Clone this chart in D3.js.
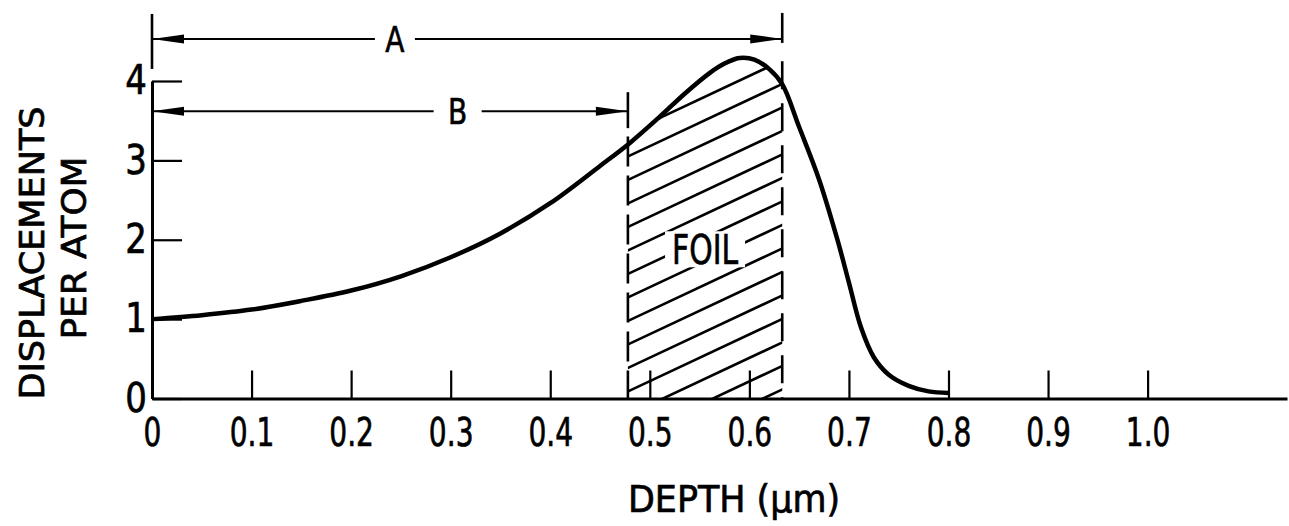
<!DOCTYPE html>
<html>
<head>
<meta charset="utf-8">
<script src="https://cdn.jsdelivr.net/npm/d3@7"></script>
<style>
  body { margin: 0; background: #fff; }
  text { font-family: "DejaVu Sans", "Liberation Sans", sans-serif; fill: #000; stroke: #000; stroke-width: 0.7px; }
</style>
</head>
<body>
<div id="chart"></div>
<script>
// Data
const depth = [0, 0.05, 0.10, 0.15, 0.20, 0.25, 0.30, 0.35, 0.40, 0.45, 0.48, 0.51, 0.535, 0.56, 0.575, 0.59, 0.605, 0.62, 0.633, 0.65, 0.67, 0.688, 0.70, 0.712, 0.725, 0.74, 0.76, 0.78, 0.80];
const dpa   = [1.00, 1.05, 1.12, 1.23, 1.36, 1.54, 1.78, 2.08, 2.46, 2.93, 3.22, 3.55, 3.84, 4.10, 4.22, 4.29, 4.27, 4.15, 3.96, 3.42, 2.76, 2.02, 1.46, 0.90, 0.52, 0.30, 0.16, 0.09, 0.07];

const xTicks = [0, 0.1, 0.2, 0.3, 0.4, 0.5, 0.6, 0.7, 0.8, 0.9, 1.0];
const xTickLabels = ["0", "0.1", "0.2", "0.3", "0.4", "0.5", "0.6", "0.7", "0.8", "0.9", "1.0"];
const yTicks = [0, 1, 2, 3, 4];
const yTickLabels = ["0", "1", "2", "3", "4"];

const foilRange = [0.478, 0.633];
const spanLabels = ["A", "B"];
const spanEnds = [0.633, 0.478];
const spanLevels = [4.53, 3.62];
const spanLabelAt = [0.244, 0.307];

function draw() {
    const points = depth.map((d, i) => ({ x: d, y: dpa[i] }));

    const width = 1289, height = 526;

    const svg = d3.select("#chart")
        .append("svg")
        .attr("width", width)
        .attr("height", height)

    const xScale = d3.scaleLinear()
        .domain([0, 1.14])
        .range([152, 1287])

    const yScale = d3.scaleLinear()
        .domain([0, 4])
        .range([398.5, 81])

    const curve = d3.curveCatmullRom.alpha(0.5);

    // Clip paths for the hatched foil
    const defs = svg.append("defs");
    defs.append("clipPath").attr("id", "foil-rect")
        .append("rect")
        .attr("x", xScale(foilRange[0]))
        .attr("y", 0)
        .attr("width", xScale(foilRange[1]) - xScale(foilRange[0]))
        .attr("height", yScale(0))

    const area = d3.area()
        .x(d => xScale(d.x))
        .y0(yScale(0))
        .y1(d => yScale(d.y))
        .curve(curve)

    defs.append("clipPath").attr("id", "under-curve")
        .append("path")
        .attr("d", area(points))

    // Hatching
    const hatch = svg.append("g").attr("clip-path", "url(#foil-rect)")
        .append("g").attr("clip-path", "url(#under-curve)")
    const fx0 = xScale(foilRange[0]), fx1 = xScale(foilRange[1]);
    const slope = 0.47, gap = 23.5;
    for (let c = 368 - gap * 16; c < 368 + gap * 5; c += gap) {
        hatch.append("line")
            .attr("x1", fx0 - 5).attr("y1", c + 5 * slope)
            .attr("x2", fx1 + 5).attr("y2", c - (fx1 - fx0 + 5) * slope)
            .attr("stroke", "#000")
            .attr("stroke-width", 2.6)
    }

    // FOIL label with a clear patch
    const foilCx = (fx0 + fx1) / 2, foilCy = yScale(1.88);
    svg.append("rect")
        .attr("x", foilCx - 40).attr("y", foilCy - 18)
        .attr("width", 80).attr("height", 36)
        .attr("fill", "#fff")
    svg.append("text")
        .attr("x", foilCx - 33).attr("y", foilCy + 15)
        .attr("font-size", 40)
        .attr("textLength", 66)
        .attr("lengthAdjust", "spacingAndGlyphs")
        .text("FOIL")

    // Dashed foil boundaries
    svg.append("line")
        .attr("x1", fx0).attr("x2", fx0)
        .attr("y1", yScale(3.3)).attr("y2", yScale(0))
        .attr("stroke", "#000").attr("stroke-width", 2.6)
        .attr("stroke-dasharray", "30,9")
    svg.append("line")
        .attr("x1", fx1).attr("x2", fx1)
        .attr("y1", yScale(4.25)).attr("y2", yScale(0))
        .attr("stroke", "#000").attr("stroke-width", 2.6)
        .attr("stroke-dasharray", "28,14")

    // Axes
    const xAxis = d3.axisBottom(xScale)
        .tickValues(xTicks)
        .tickSizeInner(-28)
        .tickSizeOuter(0)
        .tickPadding(20)
        .tickFormat((d, i) => xTickLabels[i]);
    const xAxisGroup = svg.append("g")
        .attr("transform", `translate(0, ${yScale(0)})`)
        .call(xAxis)
    xAxisGroup.attr("font-family", null).attr("font-size", null)
    xAxisGroup.select(".domain").attr("stroke-width", 3)
    xAxisGroup.selectAll(".tick line").attr("stroke-width", 2.2)
    xAxisGroup.selectAll(".tick text")
        .attr("font-size", 39)
        .attr("transform", "scale(0.72,1)")

    const yAxis = d3.axisLeft(yScale)
        .tickValues(yTicks)
        .tickSizeInner(-30)
        .tickSizeOuter(0)
        .tickPadding(6)
        .tickFormat((d, i) => yTickLabels[i]);
    const yAxisGroup = svg.append("g")
        .attr("transform", `translate(${xScale(0)}, 0)`)
        .call(yAxis)
    yAxisGroup.attr("font-family", null).attr("font-size", null)
    yAxisGroup.select(".domain").attr("stroke-width", 3)
    yAxisGroup.selectAll(".tick line").attr("stroke-width", 2.2)
    yAxisGroup.selectAll(".tick text")
        .attr("font-size", 40)
        .attr("transform", "scale(0.85,1)")

    // Curve
    const line = d3.line()
        .x(d => xScale(d.x))
        .y(d => yScale(d.y))
        .curve(curve)
    svg.append("path")
        .datum(points)
        .attr("d", line)
        .attr("fill", "none")
        .attr("stroke", "#000")
        .attr("stroke-width", 4.5)
        .attr("stroke-linejoin", "round")

    // Dimension arrows A and B
    const extUp = [25, 19], extDown = [30, 17];
    const halfGap = [20, 24];
    spanLabels.forEach((label, i) => {
        const y = yScale(spanLevels[i]);
        const x0 = xScale(0), x1 = xScale(spanEnds[i]), lx = xScale(spanLabelAt[i]);
        const g = svg.append("g");
        g.append("line").attr("x1", x0).attr("x2", lx - halfGap[i]).attr("y1", y).attr("y2", y)
            .attr("stroke", "#000").attr("stroke-width", 2)
        g.append("line").attr("x1", lx + halfGap[i]).attr("x2", x1).attr("y1", y).attr("y2", y)
            .attr("stroke", "#000").attr("stroke-width", 2)
        g.append("path")
            .attr("d", `M${x0},${y}L${x0 + 32},${y - 4.5}L${x0 + 32},${y + 4.5}Z`)
            .attr("fill", "#000")
        g.append("path")
            .attr("d", `M${x1},${y}L${x1 - 32},${y - 4.5}L${x1 - 32},${y + 4.5}Z`)
            .attr("fill", "#000")
        g.append("text")
            .attr("x", lx).attr("y", y)
            .attr("dy", "0.36em")
            .attr("text-anchor", "middle")
            .attr("font-size", 35)
            .attr("transform", `translate(${lx * 0.2},0) scale(0.8,1)`)
            .text(label)
        if (i === 0) {
            g.append("line").attr("x1", x0).attr("x2", x0)
                .attr("y1", y - extUp[i]).attr("y2", y + extDown[i])
                .attr("stroke", "#000").attr("stroke-width", 2.6)
            g.append("line").attr("x1", x1).attr("x2", x1)
                .attr("y1", y - 26).attr("y2", y + 4)
                .attr("stroke", "#000").attr("stroke-width", 2.6)
        } else {
            g.append("line").attr("x1", x1).attr("x2", x1)
                .attr("y1", y - extUp[i]).attr("y2", y + extDown[i])
                .attr("stroke", "#000").attr("stroke-width", 2.6)
        }
    });

    // Axis titles
    svg.append("text")
        .attr("x", 628).attr("y", 512)
        .attr("font-size", 37)
        .attr("textLength", 212)
        .attr("lengthAdjust", "spacingAndGlyphs")
        .text("DEPTH (μm)")

    svg.append("text")
        .attr("transform", "translate(44, 253) rotate(-90)")
        .attr("text-anchor", "middle")
        .attr("font-size", 33)
        .attr("textLength", 293)
        .attr("lengthAdjust", "spacingAndGlyphs")
        .text("DISPLACEMENTS")

    svg.append("text")
        .attr("transform", "translate(86, 248) rotate(-90)")
        .attr("text-anchor", "middle")
        .attr("font-size", 33)
        .attr("textLength", 183)
        .attr("lengthAdjust", "spacingAndGlyphs")
        .text("PER ATOM")
}

draw();
</script>
</body>
</html>
